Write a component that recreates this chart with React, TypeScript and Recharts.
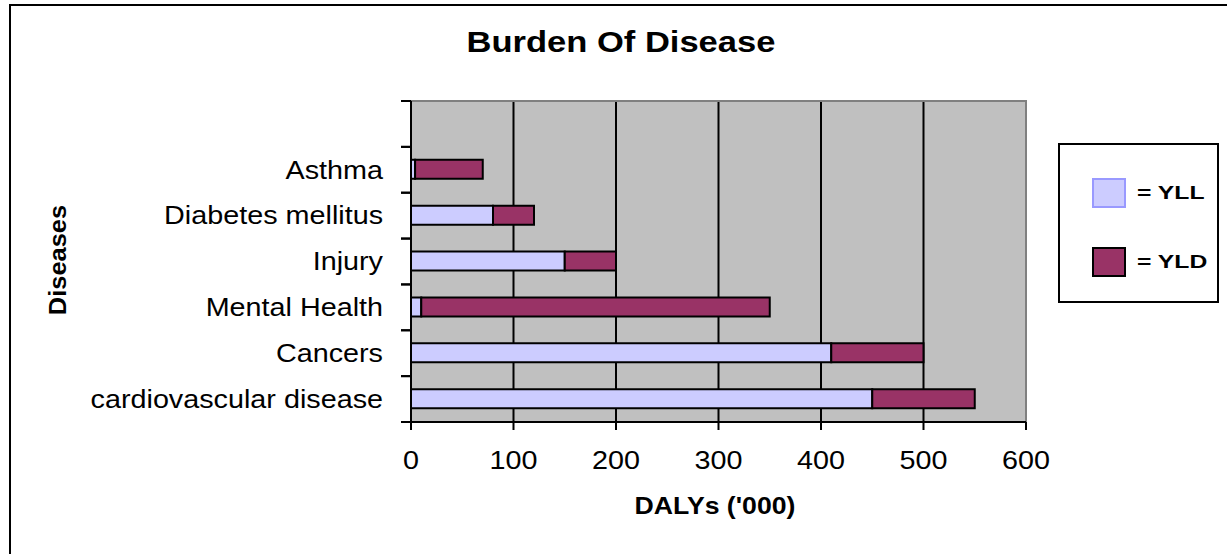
import { BarChart, Bar, XAxis, YAxis, CartesianGrid, ReferenceArea, Legend } from 'recharts';

// categories top to bottom (first slot is empty in the original chart)
const diseases = ['', 'Asthma', 'Diabetes mellitus', 'Injury', 'Mental Health', 'Cancers', 'cardiovascular disease'];
const yllValues = [null, 4, 80, 150, 10, 410, 450];
const yldValues = [null, 66, 40, 50, 340, 90, 100];
const xTicks = [0, 100, 200, 300, 400, 500, 600];
const seriesOrder = ['YLL', 'YLD'];

const data = diseases.map((name, i) => ({ name, YLL: yllValues[i], YLD: yldValues[i] }));

const FONT = '"Liberation Sans", Arial, sans-serif';

// text in the original is a bit stretched horizontally
const STRETCH = 1.15;

const CategoryTick = (props: any) => {
  const { x, y, payload } = props;
  const half = payload?.offset ?? 23;
  return (
    <g>
      <line x1={x + 18} x2={x + 28} y1={y - half} y2={y - half} stroke="#000" strokeWidth={2} />
      <line x1={x + 18} x2={x + 28} y1={y + half} y2={y + half} stroke="#000" strokeWidth={2} />
      <text transform={`translate(${x},${y}) scale(${STRETCH},1)`} dy="0.35em" textAnchor="end" fontSize={25} fill="#000">
        {payload.value}
      </text>
    </g>
  );
};

const ValueTick = (props: any) => {
  const { x, y, payload } = props;
  return (
    <text transform={`translate(${x},${y}) scale(${STRETCH},1)`} dy="0.71em" textAnchor="middle" fontSize={25} fill="#000">
      {payload.value}
    </text>
  );
};

const legendBorders: Record<string, string> = { YLL: '#9999ff', YLD: '#000' };

const LegendBox = (props: any) => {
  const items = [...(props.payload || [])].sort(
    (a: any, b: any) => seriesOrder.indexOf(a.value) - seriesOrder.indexOf(b.value)
  );
  return (
    <div style={{ width: 161, height: 160, border: '2px solid #000', boxSizing: 'border-box', position: 'relative', background: '#fff' }}>
      {items.map((entry: any, i: number) => (
        <div key={entry.value} style={{ position: 'absolute', left: 32, top: 33 + i * 69, display: 'flex', alignItems: 'center' }}>
          <div style={{ width: 30, height: 26, background: entry.color, border: `2px solid ${legendBorders[entry.value]}` }} />
          <span style={{ marginLeft: 11, fontWeight: 'bold', fontSize: 19, fontFamily: FONT, color: '#000', display: 'inline-block', transform: 'scaleX(1.3)', transformOrigin: 'left center', whiteSpace: 'nowrap' }}>
            = {entry.value}
          </span>
        </div>
      ))}
    </div>
  );
};

export default function App() {
  return (
    <div style={{ position: 'fixed', left: 0, top: 0, width: 1227, height: 554, overflow: 'hidden', background: '#fff', fontFamily: FONT }}>
      <div style={{ position: 'absolute', left: 9, top: 4, width: 1400, height: 800, border: '2px solid #000' }} />
      <div style={{ position: 'absolute', left: 321, width: 600, top: 28, textAlign: 'center', fontSize: 29, lineHeight: 1, fontWeight: 'bold', transform: 'scaleX(1.19)' }}>
        Burden Of Disease
      </div>
      <div style={{ position: 'absolute', left: 415, width: 600, top: 494, textAlign: 'center', fontSize: 24, lineHeight: 1, fontWeight: 'bold', transform: 'scaleX(1.11)' }}>
        DALYs ('000)
      </div>
      <div style={{ position: 'absolute', left: 58 - 100, top: 260 - 12, width: 200, height: 24, textAlign: 'center', fontSize: 24, lineHeight: 1, fontWeight: 'bold', transform: 'rotate(-90deg) scaleX(1.06)' }}>
        Diseases
      </div>
      <div style={{ position: 'absolute', left: 0, top: 0 }}>
        <BarChart
          width={1227}
          height={554}
          data={data}
          layout="vertical"
          margin={{ top: 101, right: 201, bottom: 72, left: 81 }}
          barSize={19}
        >
          <CartesianGrid horizontal={false} vertical fill="#c0c0c0" stroke="#000" strokeWidth={2} verticalValues={[100, 200, 300, 400, 500]} />
          <ReferenceArea x1={0} x2={600} fill="none" stroke="#808080" strokeWidth={2} />
          <XAxis
            type="number"
            domain={[0, 600]}
            ticks={xTicks}
            interval={0}
            height={60}
            tickSize={8}
            tickMargin={21}
            axisLine={{ stroke: '#000', strokeWidth: 2 }}
            tickLine={{ stroke: '#000', strokeWidth: 2 }}
            tick={<ValueTick />}
          />
          <YAxis
            type="category"
            dataKey="name"
            width={330}
            interval={0}
            tickSize={10}
            tickMargin={18}
            tickLine={false}
            axisLine={{ stroke: '#000', strokeWidth: 2 }}
            tick={<CategoryTick />}
          />
          <Legend
            layout="vertical"
            align="center"
            verticalAlign="middle"
            content={<LegendBox />}
            wrapperStyle={{ position: 'absolute', left: 1058, top: 143, width: 161, height: 160 }}
          />
          <Bar dataKey="YLL" stackId="a" fill="#ccccff" stroke="#000" strokeWidth={2} isAnimationActive={false} />
          <Bar dataKey="YLD" stackId="a" fill="#993366" stroke="#000" strokeWidth={2} isAnimationActive={false} />
        </BarChart>
      </div>
    </div>
  );
}
